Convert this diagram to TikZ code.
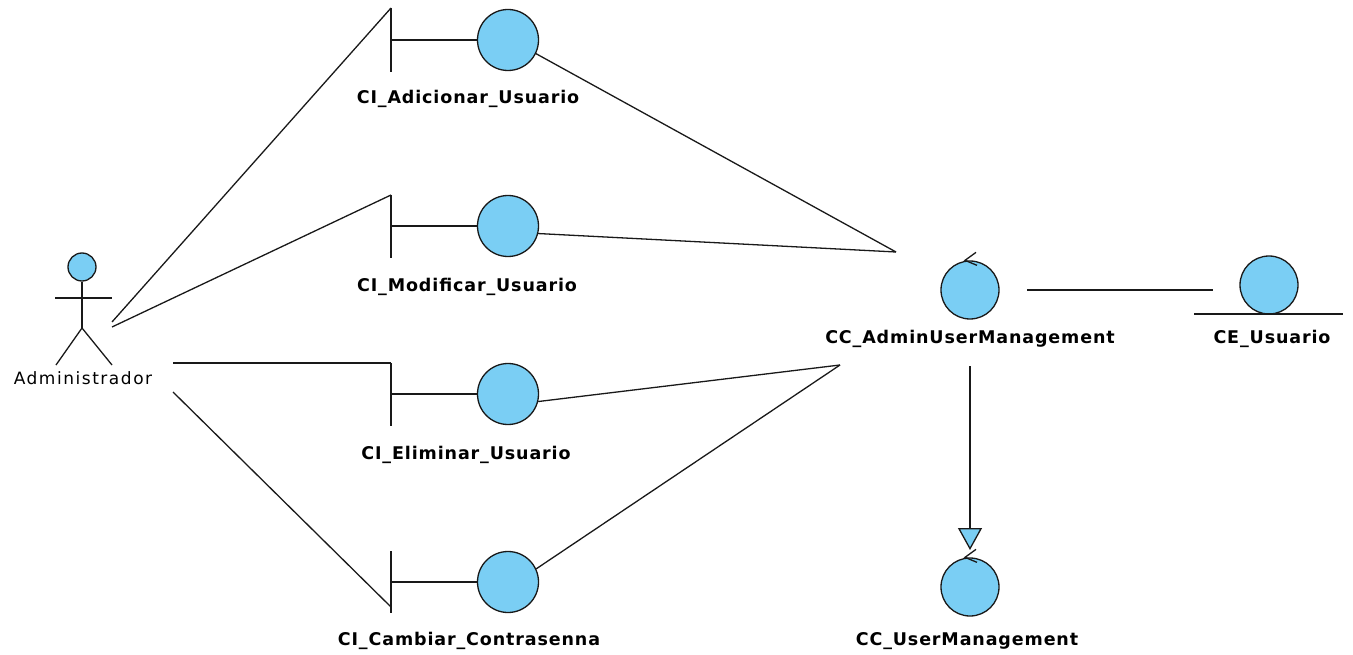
\documentclass[tikz,border=0pt]{standalone}
\usepackage{fontspec}
\setmainfont{DejaVu Sans}
\usetikzlibrary{arrows.meta}
\definecolor{umlblue}{RGB}{122,206,244}
\definecolor{umlline}{RGB}{25,25,25}
\newfontfamily\umlfont[LetterSpace=5]{DejaVu Sans}
\newfontfamily\actorfont[LetterSpace=9]{DejaVu Sans}

\begin{document}
\begin{tikzpicture}[x=1pt,y=-1pt,
  line width=1.3pt,
  ball/.style={circle,draw=umlline,fill=umlblue,inner sep=0pt,minimum size=#1},
  ball/.default=61pt,
  lbl/.style={inner sep=0pt,anchor=base,font=\umlfont\bfseries\fontsize{17.5}{20}\selectfont},
  actorlbl/.style={inner sep=0pt,anchor=base,font=\actorfont\fontsize{17}{20}\selectfont},
  link/.style={draw=umlline,line width=1.3pt},
  gen/.style={link,-{Triangle[width=24pt,length=22pt,fill=umlblue]}},
]
\useasboundingbox (0,0) rectangle (1353,655);

% actor
\node[ball=28pt] (head) at (82,267) {};
\coordinate (hip) at (82,328);
\draw[link] (head.south) -- (hip);
\draw[link] (55,298) -- (112,298);
\draw[link] (56,365) -- (hip) -- (112,365);
\node[actorlbl] (actor) at (83,384) {Administrador};
\coordinate (a1) at (112,322);
\coordinate (a2) at (112,327);
\coordinate (a3) at (173,363);
\coordinate (a4) at (173,392);

% boundary classes
\node[ball] (b1) at (508,40) {};
\coordinate (b1t) at (391,8);   \coordinate (b1b) at (391,72);
\draw[link] (b1t) -- (b1b);  \draw[link] (391,40) -- (b1.west);
\node[lbl] (b1l) at (468,104) {CI\_Adicionar\_Usuario};

\node[ball] (b2) at (508,226) {};
\coordinate (b2t) at (391,195); \coordinate (b2b) at (391,258);
\draw[link] (b2t) -- (b2b);  \draw[link] (391,226) -- (b2.west);
\node[lbl] (b2l) at (467,291) {CI\_Modificar\_Usuario};

\node[ball] (b3) at (508,394) {};
\coordinate (b3t) at (391,363); \coordinate (b3b) at (391,426);
\draw[link] (b3t) -- (b3b);  \draw[link] (391,394) -- (b3.west);
\node[lbl] (b3l) at (466,459) {CI\_Eliminar\_Usuario};

\node[ball] (b4) at (508,582) {};
\coordinate (b4t) at (391,551); \coordinate (b4b) at (391,613);
\coordinate (b4x) at (391,607);
\draw[link] (b4t) -- (b4b);  \draw[link] (391,582) -- (b4.west);
\node[lbl] (b4l) at (469,645) {CI\_Cambiar\_Contrasenna};

% actor to boundaries
\draw[link] (a1) -- (b1t);
\draw[link] (a2) -- (b2t);
\draw[link] (a3) -- (b3t);
\draw[link] (a4) -- (b4x);

% control classes
\node[ball=58pt] (ca) at (970,290) {};
\draw[link] ([shift={(6,-8)}]ca.north) -- ([shift={(-5,0)}]ca.north) -- ([shift={(7,5)}]ca.north);
\node[lbl] (cal) at (970,344) {CC\_AdminUserManagement};

\node[ball=58pt] (cb) at (970,587) {};
\draw[link] ([shift={(6,-8)}]cb.north) -- ([shift={(-5,0)}]cb.north) -- ([shift={(7,5)}]cb.north);
\node[lbl] (cbl) at (967,645) {CC\_UserManagement};

% entity class
\node[ball=58pt] (ce) at (1269,285) {};
\draw[link] (1194,314) -- (1343,314);
\node[lbl] (cel) at (1272,344) {CE\_Usuario};

% boundaries to control
\coordinate (p1) at (896,252);
\coordinate (p2) at (840,365);
\draw[link] (b1.-26) -- (p1);
\draw[link] (b2.-14) -- (p1);
\draw[link] (b3.-14) -- (p2);
\draw[link] (b4.25) -- (p2);

% control to entity
\coordinate (e1) at (1027,290);
\coordinate (e2) at (1213,290);
\draw[link] (e1) -- (e2);

% generalisation
\coordinate (g1) at (970,366);
\coordinate (g2) at (970,550);
\draw[gen] (g1) -- (g2);
\end{tikzpicture}
\end{document}
